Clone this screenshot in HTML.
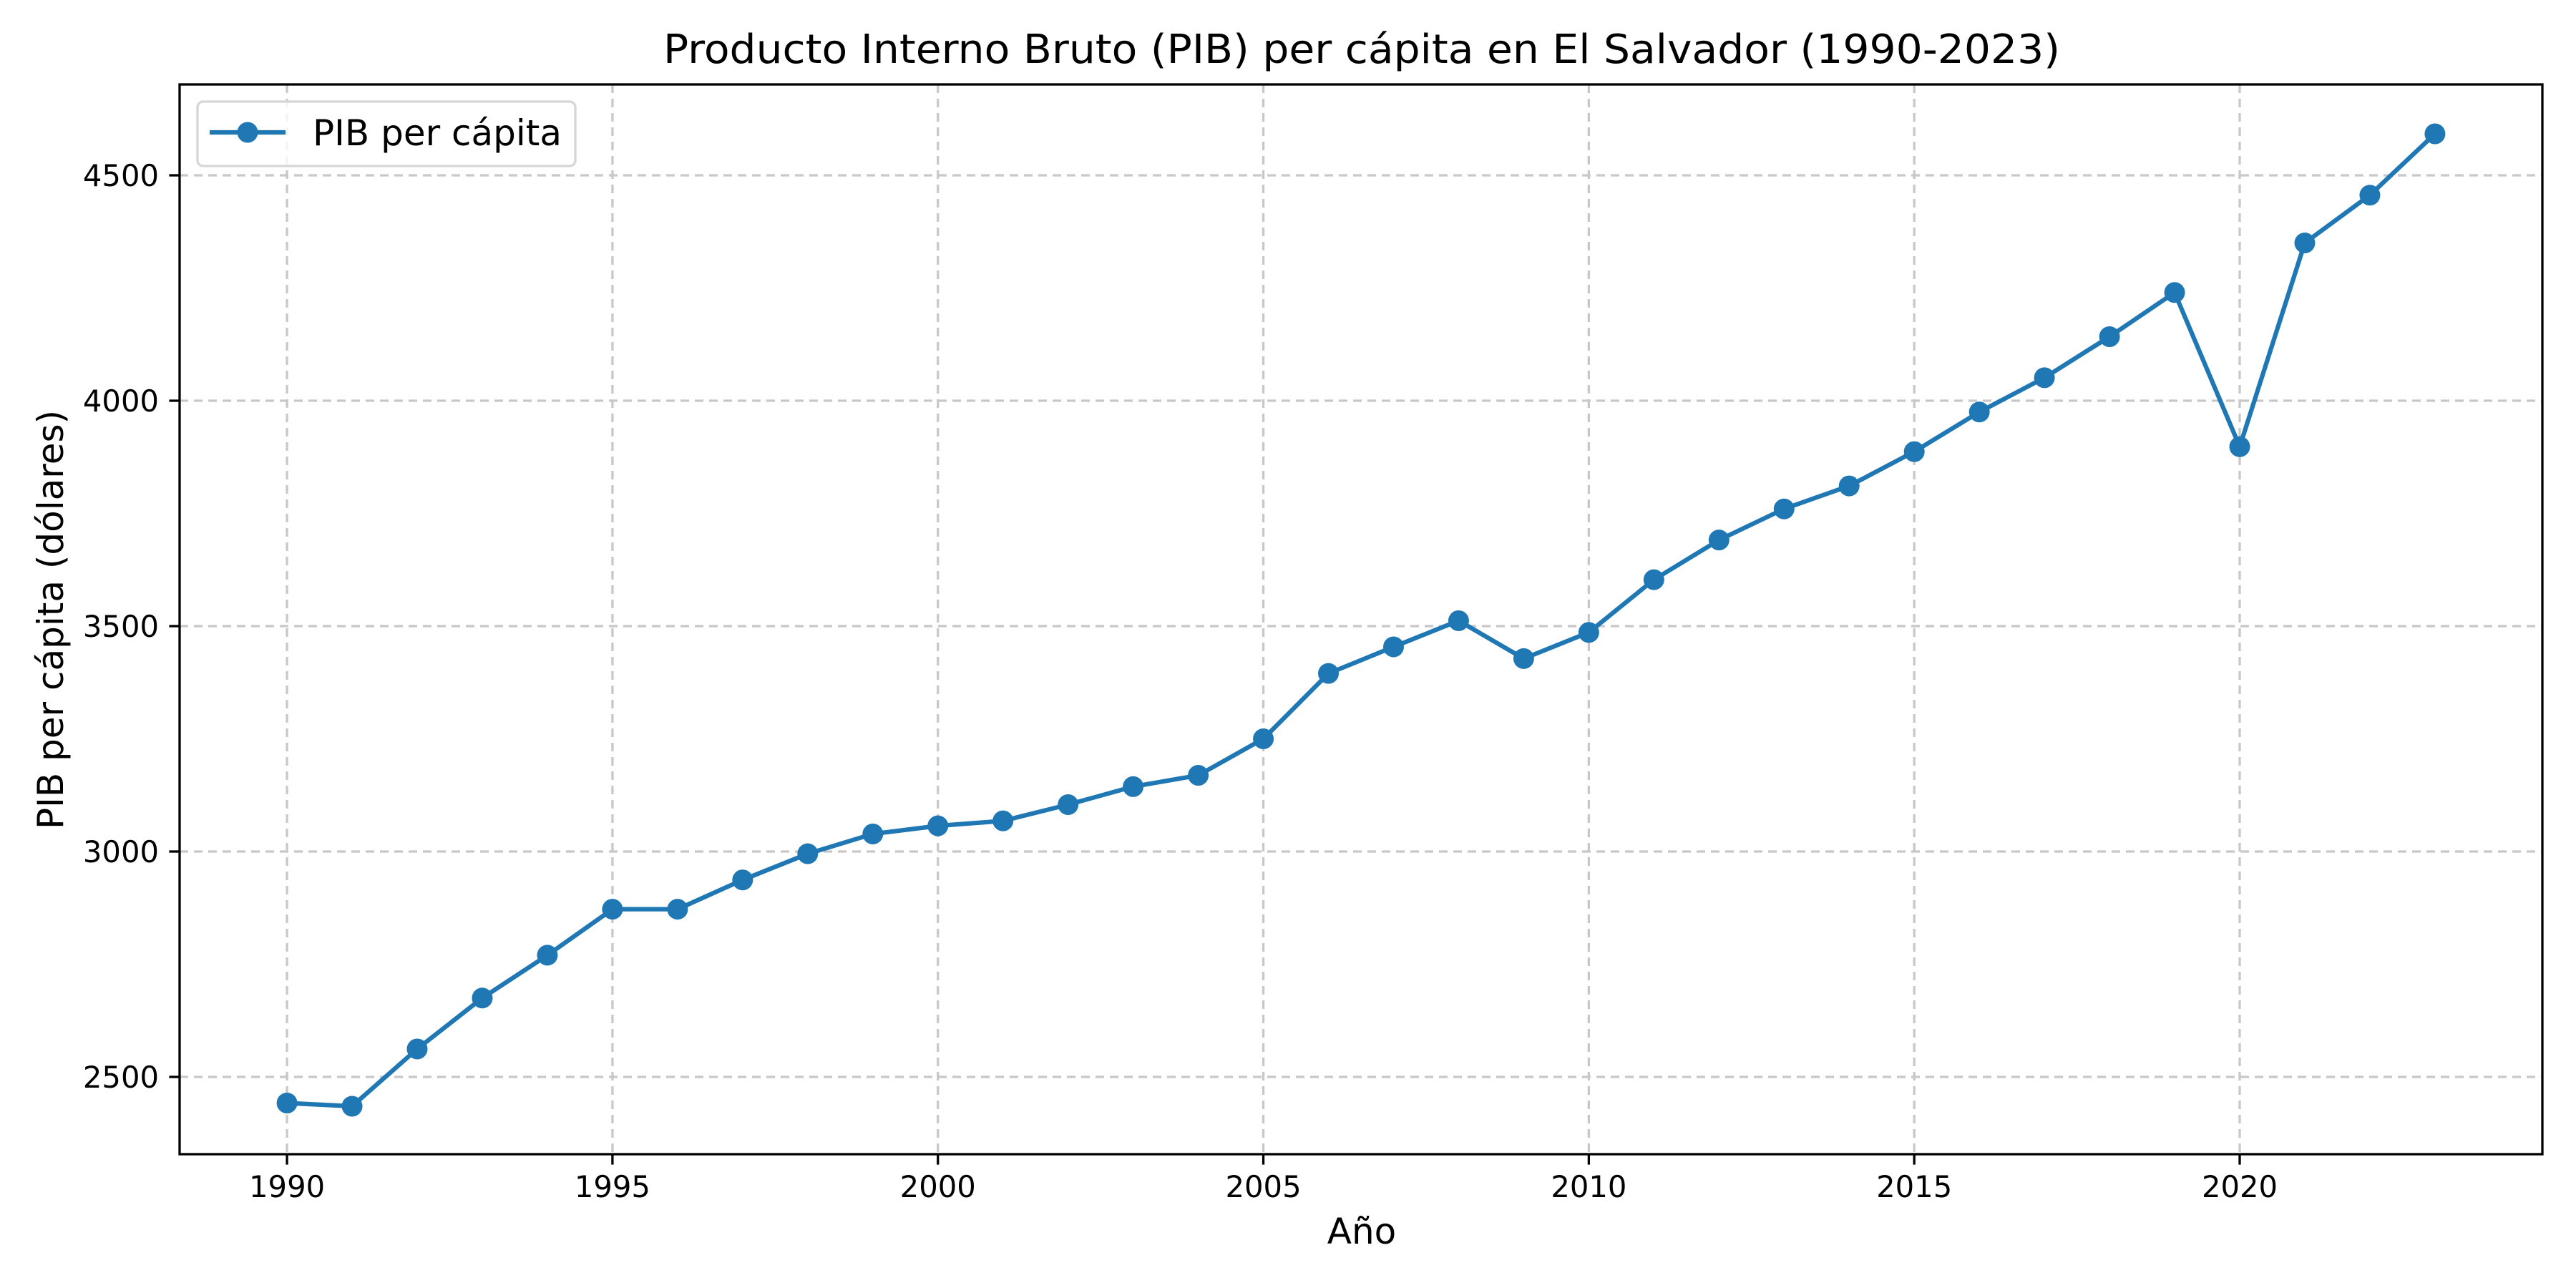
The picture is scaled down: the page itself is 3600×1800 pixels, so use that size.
<!DOCTYPE html>
<html><head><meta charset="utf-8"><style>
html,body{margin:0;padding:0;background:#fff;}
svg{display:block;font-family:"DejaVu Sans","Liberation Sans",sans-serif;}
</style></head><body>
<svg id="chart" width="3600" height="1800" viewBox="0 0 3600 1800" xmlns="http://www.w3.org/2000/svg">
<rect width="3600" height="1800" fill="#fff"/>
<text x="1903" y="88" font-size="56" text-anchor="middle" textLength="1952" lengthAdjust="spacingAndGlyphs">Producto Interno Bruto (PIB) per cápita en El Salvador (1990-2023)</text>
<g id="grid"></g>
<g id="xticks"></g>
<g id="yticks"></g>
<g id="series"></g>
<rect x="251" y="118" width="3302" height="1495" fill="none" stroke="#000" stroke-width="3.3"/>
<text x="1903" y="1738" font-size="50" text-anchor="middle">Año</text>
<text transform="translate(88,866) rotate(-90)" font-size="50" text-anchor="middle">PIB per cápita (dólares)</text>
<g>
<rect x="276" y="142" width="528" height="90" rx="8" fill="#fff" fill-opacity="0.8" stroke="#d6d6d6" stroke-width="3.3"/>
<line x1="293" y1="185" x2="399" y2="185" stroke="#1f77b4" stroke-width="6.25"/>
<circle cx="346" cy="185" r="14.5" fill="#1f77b4"/>
<text x="437" y="203" font-size="50">PIB per cápita</text>
</g>
</svg>
<script>
const years = [1990,1991,1992,1993,1994,1995,1996,1997,1998,1999,2000,2001,2002,2003,2004,2005,2006,2007,2008,2009,2010,2011,2012,2013,2014,2015,2016,2017,2018,2019,2020,2021,2022,2023];
const gdpValues = [2442,2435,2562,2675,2770,2872,2872,2937,2995,3039,3057,3068,3104,3144,3169,3250,3395,3454,3512,3428,3486,3603,3691,3760,3811,3887,3975,4051,4142,4240,3898,4350,4456,4592];
const xTickLabels = [1990,1995,2000,2005,2010,2015,2020];
const yTickLabels = [2500,3000,3500,4000,4500];

const NS="http://www.w3.org/2000/svg";
const L=251,R=3553,T=118,B=1613;
const xMin=1988.35,xMax=2024.65,yMin=2328.6,yMax=4701.6;
function xs(v){return L+(v-xMin)/(xMax-xMin)*(R-L);}
function ys(v){return B-(v-yMin)/(yMax-yMin)*(B-T);}
function mk(tag,attrs,parent){const e=document.createElementNS(NS,tag);for(const k in attrs)e.setAttribute(k,attrs[k]);parent.appendChild(e);return e;}
const grid=document.getElementById('grid'),xt=document.getElementById('xticks'),yt=document.getElementById('yticks'),ser=document.getElementById('series');
xTickLabels.forEach(v=>{
  const x=xs(v);
  const g=mk('line',{x1:x,y1:T,x2:x,y2:B,stroke:'#c8c8c8','stroke-width':3.3,'stroke-dasharray':'12 8'},grid);
  
  
  const t=mk('line',{x1:x,y1:B,x2:x,y2:B+14.6,stroke:'#000','stroke-width':3.3},xt);
  
  
  const lb=mk('text',{x:x,y:1673,'font-size':41.7,'text-anchor':'middle'},xt);
  lb.textContent=v;
  
  
});
yTickLabels.forEach(v=>{
  const y=ys(v);
  const g=mk('line',{x1:L,y1:y,x2:R,y2:y,stroke:'#c8c8c8','stroke-width':3.3,'stroke-dasharray':'12 8'},grid);
  
  
  const t=mk('line',{x1:L-14.6,y1:y,x2:L,y2:y,stroke:'#000','stroke-width':3.3},yt);
  
  
  const lb=mk('text',{x:222,y:y+15,'font-size':41.7,'text-anchor':'end'},yt);
  lb.textContent=v;
  
  
});
const pts=years.map((y,i)=>xs(y)+','+ys(gdpValues[i])).join(' ');
const line=mk('polyline',{points:pts,fill:'none',stroke:'#1f77b4','stroke-width':6.25,'stroke-linejoin':'round','stroke-linecap':'square'},ser);


years.forEach((y,i)=>{
  const c=mk('circle',{cx:xs(y),cy:ys(gdpValues[i]),r:14.5,fill:'#1f77b4'},ser);
  
  
});
</script>
</body></html>
